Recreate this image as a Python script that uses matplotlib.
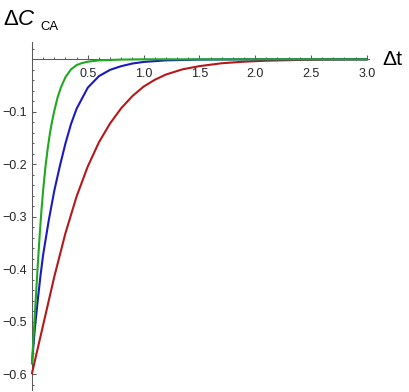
import matplotlib
matplotlib.use("Agg")
import matplotlib.pyplot as plt

plt.rcParams['font.family'] = ['Liberation Sans', 'DejaVu Sans']

# ---- data ----
t_red = [0, 0.1, 0.2, 0.3, 0.4, 0.5, 0.6, 0.7, 0.8, 0.9, 1.0, 1.1, 1.2, 1.35, 1.5,
         1.7, 1.9, 2.1, 2.4, 2.7, 3.0]
y_red = [-0.598, -0.506, -0.414, -0.331, -0.261, -0.204, -0.158, -0.122, -0.093,
         -0.070, -0.052, -0.039, -0.029, -0.019, -0.013, -0.0075, -0.0045, -0.0026,
         -0.0011, -0.0003, 0.0]

t_blue = [0, 0.025, 0.05, 0.075, 0.1, 0.15, 0.2, 0.25, 0.3, 0.35, 0.4, 0.5, 0.6,
          0.7, 0.8, 0.9, 1.0, 1.2, 1.5, 2.0, 3.0]
y_blue = [-0.579, -0.514, -0.462, -0.414, -0.372, -0.307, -0.250, -0.203, -0.160,
          -0.123, -0.094, -0.054, -0.032, -0.020, -0.013, -0.008, -0.005, -0.002,
          -0.0005, 0.0, 0.0]

t_green = [0, 0.012, 0.025, 0.04, 0.055, 0.07, 0.085, 0.1, 0.12, 0.14, 0.16, 0.18,
           0.2, 0.23, 0.26, 0.3, 0.35, 0.4, 0.45, 0.5, 0.6, 0.8, 1.0, 3.0]
y_green = [-0.579, -0.535, -0.488, -0.434, -0.381, -0.331, -0.287, -0.249, -0.206,
           -0.171, -0.142, -0.118, -0.098, -0.072, -0.053, -0.034, -0.019, -0.011,
           -0.007, -0.0045, -0.002, -0.0005, 0.0, 0.0]

x_major = [0.5, 1.0, 1.5, 2.0, 2.5, 3.0]
x_major_labels = ['0.5', '1.0', '1.5', '2.0', '2.5', '3.0']
y_major = [-0.6, -0.5, -0.4, -0.3, -0.2, -0.1]
y_major_labels = ['\u22120.6', '\u22120.5', '\u22120.4', '\u22120.3', '\u22120.2', '\u22120.1']

# ---- figure ----
W, H = 409, 392
fig = plt.figure(figsize=(W / 100, H / 100), dpi=100)
ax = fig.add_axes([32 / W, 2 / H, (369 - 32) / W, 348 / H])
ax.set_xlim(0, 3.02)
ax.set_ylim(-0.63, 0.033)

axis_col = '#5a5a5a'
lab_col = '#262626'

for s in ['top', 'right']:
    ax.spines[s].set_visible(False)
ax.spines['left'].set_position(('data', 0))
ax.spines['bottom'].set_position(('data', 0))
for s in ['left', 'bottom']:
    ax.spines[s].set_color(axis_col)
    ax.spines[s].set_linewidth(0.75)
    ax.spines[s].set_zorder(1)

ax.set_xticks(x_major)
ax.set_xticklabels(x_major_labels)
ax.set_xticks([round(0.1 * i, 2) for i in range(1, 31) if i % 5 != 0], minor=True)
ax.set_yticks(y_major)
ax.set_yticklabels(y_major_labels)
ax.set_yticks([round(-0.62 + 0.02 * i, 2) for i in range(33)
               if round(-0.62 + 0.02 * i, 2) not in y_major + [0.0]], minor=True)

ax.tick_params(which='both', direction='in', color=axis_col, width=0.75,
               labelcolor=lab_col, labelsize=9)
ax.tick_params(which='major', length=3.0)
ax.tick_params(which='minor', length=1.7)
ax.tick_params(axis='x', which='major', pad=6.3)
ax.tick_params(axis='y', which='major', pad=3.8)

ax.plot(t_red, y_red, color='#b41818', lw=1.5, zorder=3, clip_on=False,
        solid_joinstyle='round')
ax.plot(t_blue, y_blue, color='#1a1ac0', lw=1.5, zorder=4, clip_on=False,
        solid_joinstyle='round')
ax.plot(t_green, y_green, color='#1eaa1e', lw=1.5, zorder=5, clip_on=False,
        solid_joinstyle='round')

def ftext(x, y, s, **kw):
    fig.text(x / W, 1 - y / H, s, va='baseline', ha='left', color='black', **kw)

ftext(3, 25, '\u0394', fontsize=16)
ftext(18, 25, 'C', fontsize=16, style='italic')
ftext(40.5, 30, 'CA', fontsize=9.4)
ftext(382, 65, '\u0394t', fontsize=15.2)

fig.savefig('out.png', dpi=100)
